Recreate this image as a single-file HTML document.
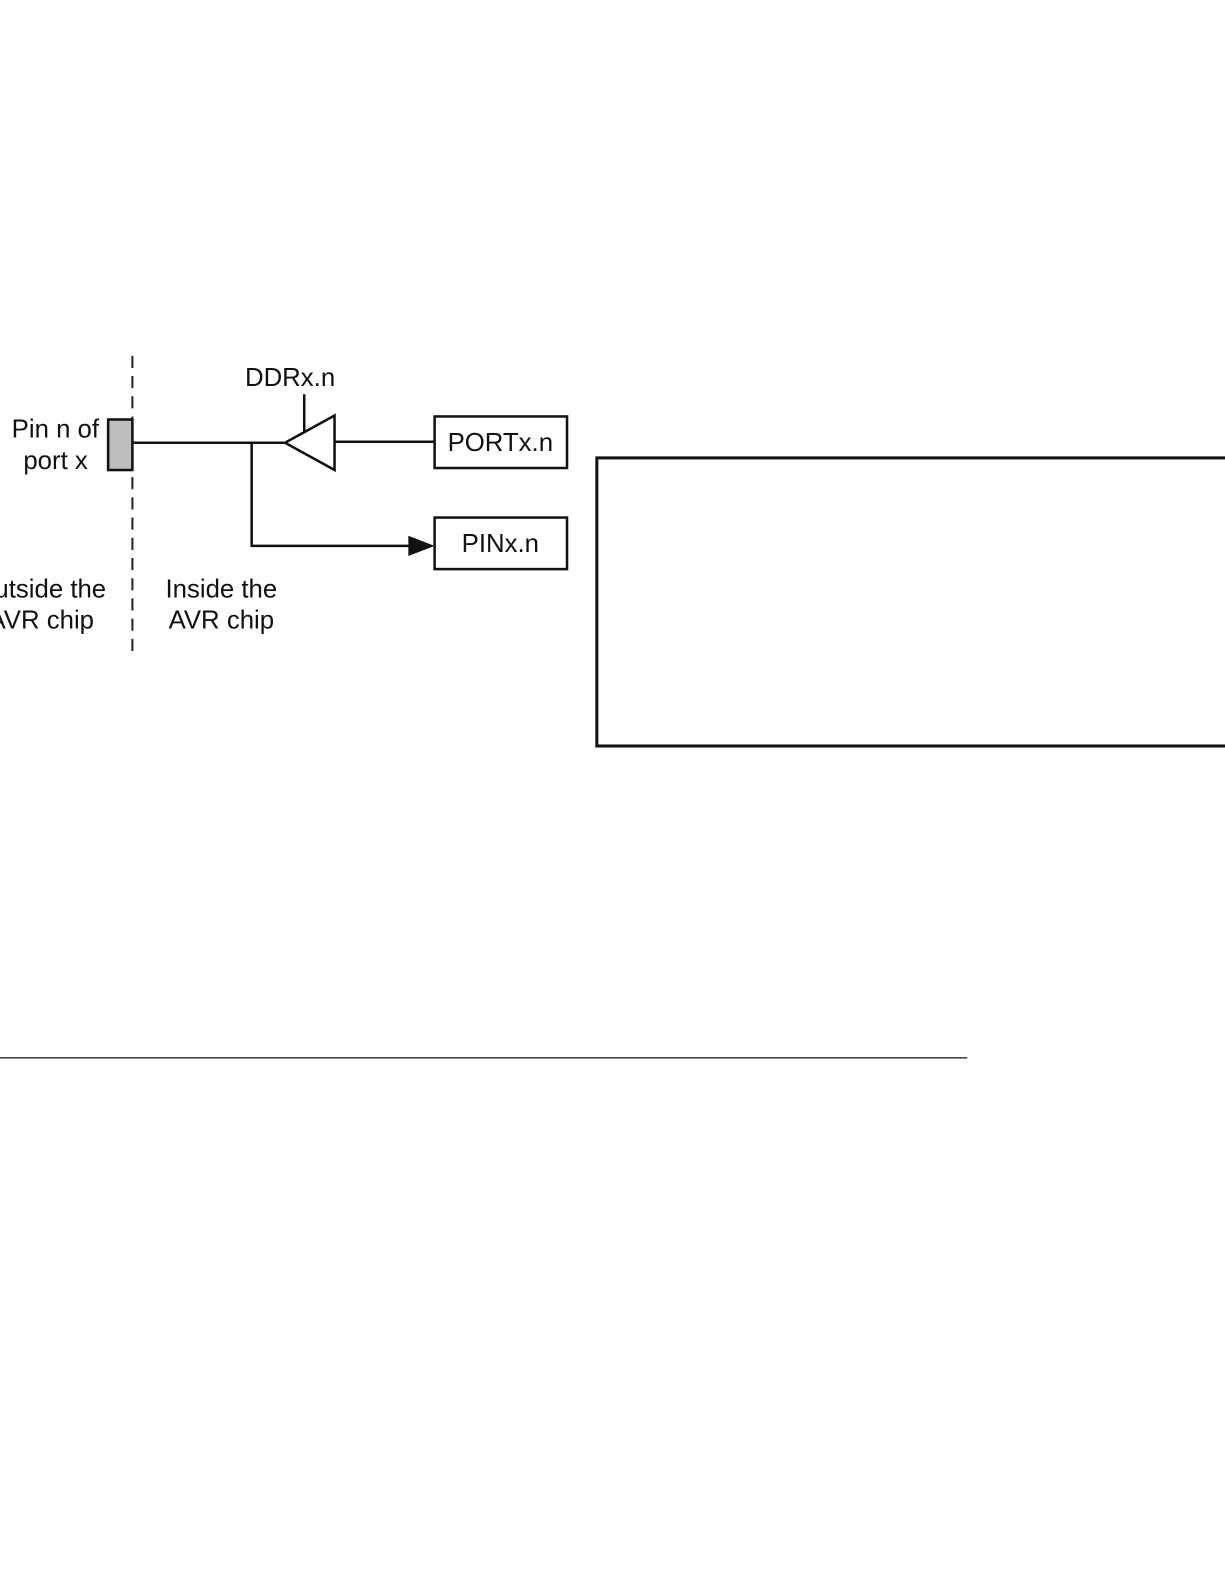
<!DOCTYPE html>
<html><head><meta charset="utf-8"><style>
html,body{margin:0;padding:0;background:#fff;}
svg{display:block;}
text{font-family:"Liberation Sans",Arial,sans-serif;font-size:25.5px;fill:#111;}
</style></head><body>
<svg width="1225" height="1585" viewBox="0 0 1212 1568" preserveAspectRatio="none" xmlns="http://www.w3.org/2000/svg">
<rect x="0" y="0" width="1212" height="1568" fill="#fff"/>
<line x1="131" y1="352" x2="131" y2="646" stroke="#222" stroke-width="2" stroke-dasharray="12,8"/>
<rect x="107" y="415" width="24" height="50" fill="#bdbdbd" stroke="#111" stroke-width="2.5"/>
<line x1="131" y1="438" x2="282" y2="438" stroke="#111" stroke-width="2.5"/>
<polyline points="249,438 249,540 406,540" fill="none" stroke="#111" stroke-width="2.5"/>
<polygon points="404,530 430,540 404,550" fill="#111"/>
<polygon points="282,438 331,411 331,465" fill="#fff" stroke="#111" stroke-width="2.5"/>
<line x1="301" y1="390" x2="301" y2="427" stroke="#111" stroke-width="2.5"/>
<line x1="331" y1="437" x2="430" y2="437" stroke="#111" stroke-width="2.5"/>
<rect x="430" y="412" width="131" height="51" fill="#fff" stroke="#111" stroke-width="2.5"/>
<rect x="430" y="512" width="131" height="51" fill="#fff" stroke="#111" stroke-width="2.5"/>
<text x="495" y="446" text-anchor="middle">PORTx.n</text>
<text x="495" y="546" text-anchor="middle">PINx.n</text>
<text x="287" y="382" text-anchor="middle">DDRx.n</text>
<text x="98" y="433" text-anchor="end">Pin n of</text>
<text x="55" y="464" text-anchor="middle">port x</text>
<text x="105" y="591" text-anchor="end">utside the</text>
<text x="93" y="622" text-anchor="end">AVR chip</text>
<text x="219" y="591" text-anchor="middle">Inside the</text>
<text x="219" y="622" text-anchor="middle">AVR chip</text>
<rect x="590.5" y="453" width="640" height="285" fill="none" stroke="#111" stroke-width="3"/>
<line x1="0" y1="1046.5" x2="957" y2="1046.5" stroke="#111" stroke-width="1.2"/>
</svg>
</body></html>
